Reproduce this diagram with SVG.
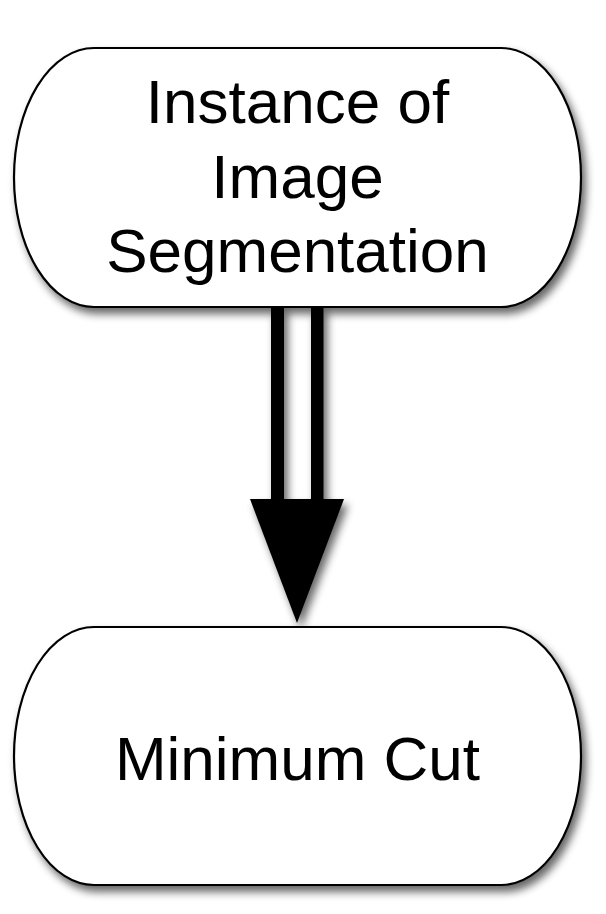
<svg xmlns="http://www.w3.org/2000/svg" width="606" height="914" viewBox="0 0 606 914">
<defs>
<filter id="sh" x="-10%" y="-10%" width="125%" height="130%">
<feGaussianBlur in="SourceAlpha" stdDeviation="4.5"/>
<feOffset dx="4" dy="6" result="b"/>
<feComponentTransfer><feFuncA type="linear" slope="0.6"/></feComponentTransfer>
<feMerge><feMergeNode/><feMergeNode in="SourceGraphic"/></feMerge>
</filter>
</defs>
<style>
.node{fill:#fff;stroke:#000;stroke-width:2.2;filter:url(#sh)}
.lbl{font-family:"Liberation Sans",Arial,sans-serif;font-size:62px;fill:#000;text-anchor:middle}
</style>
<rect width="606" height="914" fill="#fff"/>
<g id="connectors">
<g filter="url(#sh)">
<rect x="271" y="306" width="13" height="194" fill="#000"/>
<rect x="311" y="306" width="12.5" height="194" fill="#000"/>
<polygon points="250,499 344,499 297,623" fill="#000"/>
</g>
</g>
<g id="node-top">
<path class="node" d="M94,48 H501 A80,129.5 0 0 1 581,177.5 A80,129.5 0 0 1 501,307 H94 A80,129.5 0 0 1 14,177.5 A80,129.5 0 0 1 94,48 Z"/>
<text class="lbl" x="297.5" y="123">Instance of</text>
<text class="lbl" x="297.5" y="198">Image</text>
<text class="lbl" x="297.5" y="272">Segmentation</text>
</g>
<g id="node-bottom">
<path class="node" d="M94,627 H501 A80,129 0 0 1 581,756 A80,129 0 0 1 501,885 H94 A80,129 0 0 1 14,756 A80,129 0 0 1 94,627 Z"/>
<text class="lbl" x="297.5" y="780">Minimum Cut</text>
</g>
</svg>
